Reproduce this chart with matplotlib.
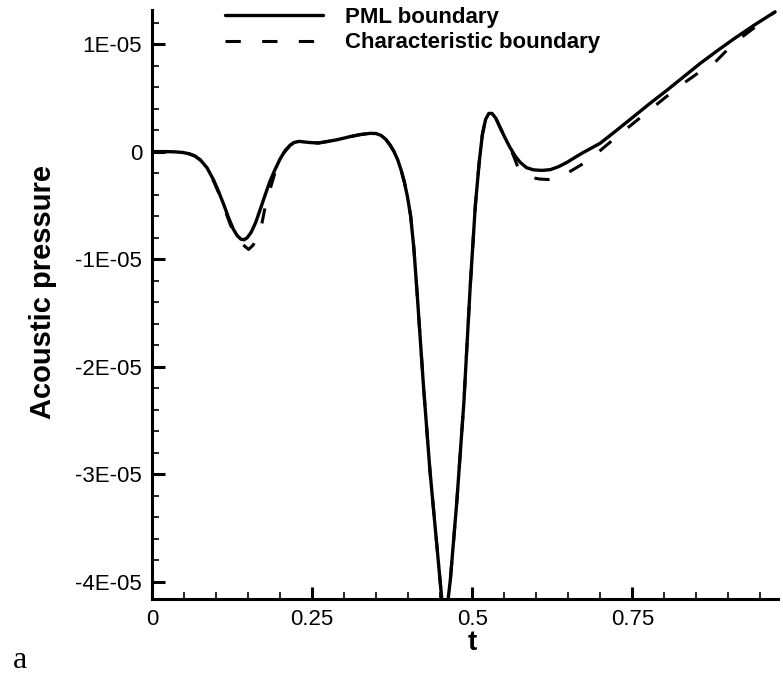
import matplotlib
matplotlib.use("Agg")
import matplotlib.pyplot as plt
from matplotlib.ticker import MultipleLocator, FuncFormatter

plt.rcParams['font.family'] = ['Liberation Sans', 'DejaVu Sans']

# PML boundary (pressure in units of 1E-05)
t_pml = [0, 0.02, 0.035, 0.048, 0.058, 0.067, 0.076, 0.086, 0.096, 0.104,
         0.112, 0.12, 0.127, 0.133, 0.139, 0.144, 0.149, 0.155, 0.162, 0.169,
         0.177, 0.184, 0.192, 0.2, 0.208, 0.216, 0.222, 0.23, 0.245, 0.26,
         0.275, 0.289, 0.31, 0.325, 0.341, 0.35, 0.358, 0.365, 0.372, 0.378,
         0.384, 0.389, 0.394, 0.399, 0.404, 0.409, 0.414, 0.424, 0.434, 0.445,
         0.457, 0.466, 0.476, 0.487, 0.497, 0.505, 0.511, 0.516, 0.521, 0.526,
         0.531, 0.537, 0.544, 0.552, 0.559, 0.567, 0.575, 0.585, 0.596, 0.609,
         0.622, 0.635, 0.648, 0.67, 0.7, 0.726, 0.752, 0.778, 0.804, 0.83,
         0.856, 0.882, 0.909, 0.94, 0.973]
p_pml = [0, 0, -0.002, -0.008, -0.02, -0.04, -0.08, -0.15, -0.26, -0.37,
         -0.49, -0.62, -0.72, -0.78, -0.815, -0.82, -0.80, -0.75, -0.66, -0.54,
         -0.40, -0.28, -0.17, -0.07, 0.01, 0.06, 0.085, 0.095, 0.085, 0.08,
         0.095, 0.11, 0.14, 0.158, 0.17, 0.168, 0.15, 0.115, 0.06, 0.0,
         -0.08, -0.17, -0.28, -0.42, -0.6, -0.9, -1.31, -2.18, -2.96, -3.67,
         -4.45, -3.98, -3.26, -2.34, -1.25, -0.5, -0.1, 0.16, 0.3, 0.355,
         0.355, 0.31, 0.22, 0.12, 0.04, -0.04, -0.1, -0.15, -0.17, -0.175,
         -0.168, -0.14, -0.1, -0.02, 0.078, 0.2, 0.325, 0.45, 0.57, 0.695,
         0.82, 0.935, 1.05, 1.175, 1.30]

# Characteristic boundary
t_chr = [0, 0.02, 0.035, 0.048, 0.058, 0.067, 0.076, 0.086, 0.096, 0.104,
         0.112, 0.12, 0.127, 0.133, 0.139, 0.145, 0.151, 0.158, 0.167, 0.172,
         0.177, 0.186, 0.195, 0.205, 0.216, 0.222, 0.23, 0.245, 0.26,
         0.275, 0.289, 0.31, 0.325, 0.341, 0.35, 0.358, 0.365, 0.372, 0.378,
         0.384, 0.389, 0.394, 0.399, 0.404, 0.409, 0.414, 0.424, 0.434, 0.445,
         0.457, 0.466, 0.476, 0.487, 0.497, 0.505, 0.511, 0.516, 0.521, 0.526,
         0.531, 0.537, 0.544, 0.552, 0.559, 0.566, 0.572, 0.581, 0.591, 0.605,
         0.619, 0.631, 0.643, 0.674, 0.7, 0.726, 0.752, 0.778, 0.804, 0.83,
         0.855, 0.88, 0.898, 0.92, 0.94, 0.973]
p_chr = [0, 0, -0.002, -0.008, -0.02, -0.04, -0.08, -0.15, -0.27, -0.38,
         -0.51, -0.64, -0.75, -0.81, -0.85, -0.88, -0.91, -0.87, -0.77, -0.66,
         -0.51, -0.32, -0.14, -0.02, 0.06, 0.085, 0.095, 0.085, 0.08,
         0.095, 0.11, 0.14, 0.158, 0.17, 0.168, 0.15, 0.115, 0.06, 0.0,
         -0.08, -0.17, -0.28, -0.42, -0.6, -0.9, -1.31, -2.18, -2.96, -3.67,
         -4.45, -3.98, -3.26, -2.34, -1.25, -0.5, -0.1, 0.16, 0.3, 0.355,
         0.355, 0.31, 0.22, 0.12, 0.04, -0.06, -0.155, -0.2, -0.24, -0.255,
         -0.26, -0.245, -0.22, -0.11, 0.01, 0.14, 0.265, 0.39, 0.515, 0.635,
         0.74, 0.836, 0.944, 1.06, 1.15, 1.30]

x_ticks = [0, 0.25, 0.5, 0.75]
x_labels = ["0", "0.25", "0.5", "0.75"]

fig = plt.figure(figsize=(7.83, 6.74), dpi=100)
ax = fig.add_axes([0.194, 0.111, 0.800, 0.874])

ax.plot(t_pml, [v * 1e-5 for v in p_pml], color='black', lw=2.4,
        label='PML boundary', solid_capstyle='round', solid_joinstyle='round')
ax.plot(t_chr, [v * 1e-5 for v in p_chr], color='black', lw=2.2,
        dashes=(5, 7), label='Characteristic boundary')

ax.set_xlim(0, 0.978)
ax.set_ylim(-4.163e-5, 1.316e-5)

for s in ['top', 'right']:
    ax.spines[s].set_visible(False)
for s in ['left', 'bottom']:
    ax.spines[s].set_linewidth(2.2)

ax.set_xticks(x_ticks)
ax.set_xticklabels(x_labels)
ax.xaxis.set_minor_locator(MultipleLocator(0.05))
ax.yaxis.set_major_locator(MultipleLocator(1e-5))
ax.yaxis.set_minor_locator(MultipleLocator(2e-6))


def fmt(v, pos):
    if abs(v) < 1e-12:
        return "0"
    return "%dE-05" % round(v / 1e-5)


ax.yaxis.set_major_formatter(FuncFormatter(fmt))
ax.tick_params(which='major', direction='in', length=9, width=2.2,
               labelsize=16, pad=7)
ax.tick_params(which='minor', direction='in', length=5, width=1.2)

fig.text(43 / 783, 1 - 292 / 674, "Acoustic pressure", rotation=90,
         ha='center', va='center', fontsize=21, fontweight='bold')
fig.text(472 / 783, 1 - 643 / 674, "t", ha='center', va='center',
         fontsize=20, fontweight='bold')
fig.text(13 / 783, 1 - 668 / 674, "a", ha='left', va='baseline',
         fontsize=23, family='Liberation Serif')

ax.legend(loc='upper left', bbox_to_anchor=(225 / 783, 1 - 7 / 674),
          bbox_transform=fig.transFigure, frameon=False,
          prop={'weight': 'bold', 'size': 16}, handlelength=4.4,
          handletextpad=1.0, labelspacing=0.2, borderpad=0, borderaxespad=0)

fig.savefig("out.png", dpi=100)
